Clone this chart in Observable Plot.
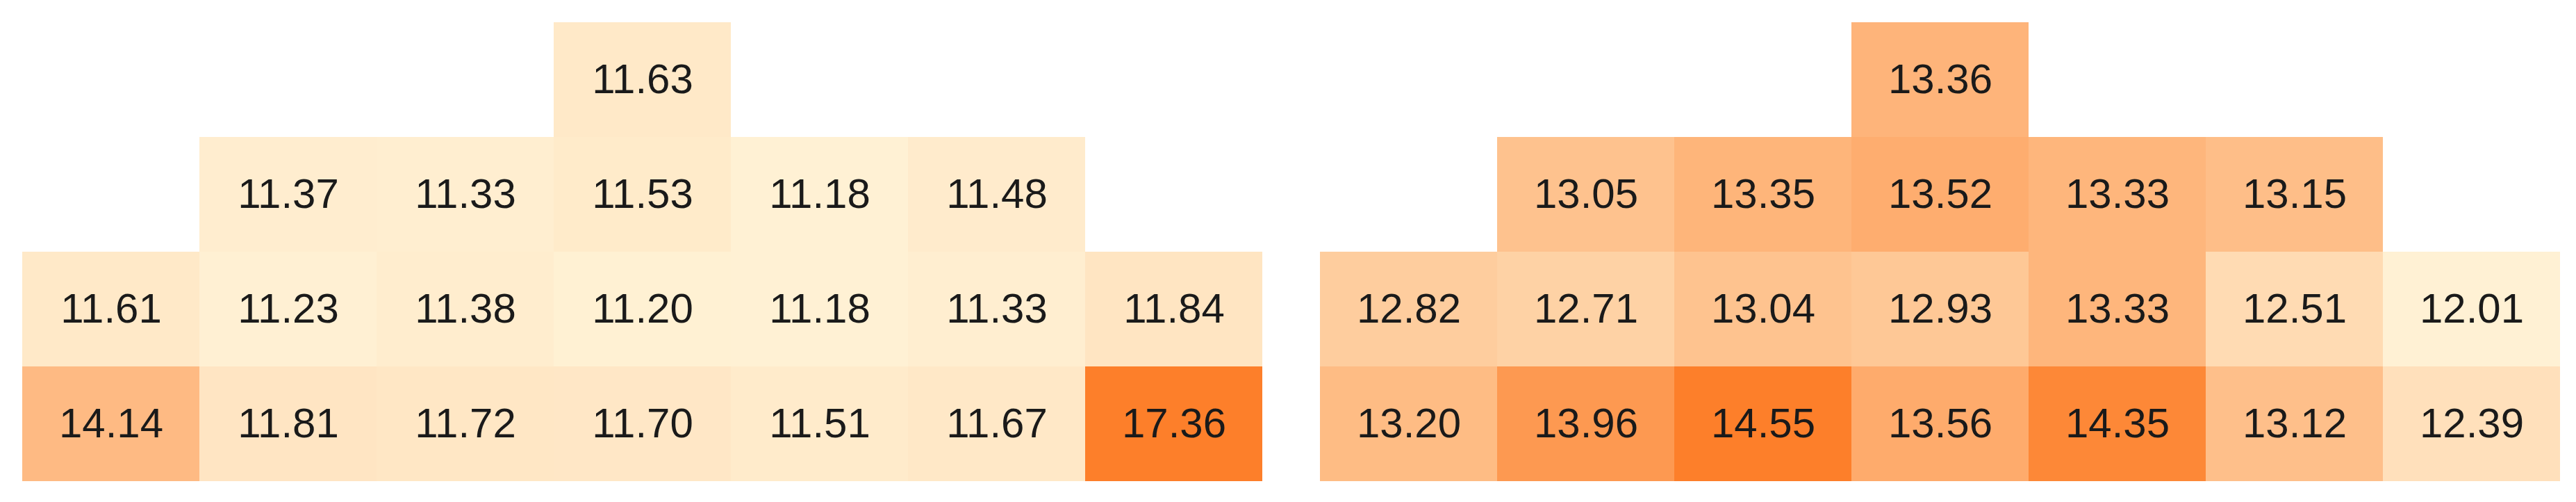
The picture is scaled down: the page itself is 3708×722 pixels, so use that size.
<!DOCTYPE html>
<html>
<head>
<meta charset="utf-8">
<script src="https://cdn.jsdelivr.net/npm/d3@7"></script>
<script src="https://cdn.jsdelivr.net/npm/@observablehq/plot@0.6"></script>
<style>
  html, body { margin: 0; padding: 0; background: #fff; }
  #wrap { display: flex; flex-direction: row; width: 3708px; height: 722px; }
</style>
</head>
<body>
<div id="wrap"></div>
<script>
// Grid layout: 4 rows x 7 columns, empty cells are null
const rowIds = [0, 1, 2, 3];
const colIds = [0, 1, 2, 3, 4, 5, 6];

const leftValues = [
  [null, null, null, 11.63, null, null, null],
  [null, 11.37, 11.33, 11.53, 11.18, 11.48, null],
  [11.61, 11.23, 11.38, 11.20, 11.18, 11.33, 11.84],
  [14.14, 11.81, 11.72, 11.70, 11.51, 11.67, 17.36]
];

const rightValues = [
  [null, null, null, 13.36, null, null, null],
  [null, 13.05, 13.35, 13.52, 13.33, 13.15, null],
  [12.82, 12.71, 13.04, 12.93, 13.33, 12.51, 12.01],
  [13.20, 13.96, 14.55, 13.56, 14.35, 13.12, 12.39]
];

const colorRange = ["#fff1d4", "#fd7f2a"];

function toTable(values) {
  const out = [];
  values.forEach((row, r) => row.forEach((v, c) => {
    if (v != null) out.push({row: rowIds[r], col: colIds[c], value: v});
  }));
  return out;
}

function panel(values, marginLeft, marginRight) {
  const data = toTable(values);
  return Plot.plot({
    width: 1854,
    height: 722,
    marginTop: 30,
    marginBottom: 29,
    marginLeft,
    marginRight,
    style: {background: "#fff"},
    x: {type: "band", domain: colIds, padding: 0, axis: null},
    y: {type: "band", domain: rowIds, padding: 0, axis: null},
    color: {type: "linear", domain: d3.extent(data, d => d.value), range: colorRange, interpolate: "rgb"},
    marks: [
      Plot.cell(data, {x: "col", y: "row", fill: "value", inset: 0}),
      Plot.text(data, {
        x: "col", y: "row",
        text: d => d.value.toFixed(2),
        fontSize: 60,
        fontFamily: "Liberation Sans",
        letterSpacing: -1.5,
        fill: "#1a1a1a"
      })
    ]
  });
}

const wrap = document.getElementById("wrap");
wrap.appendChild(panel(leftValues, 32, 37));
wrap.appendChild(panel(rightValues, 46, 23));
</script>
</body>
</html>
